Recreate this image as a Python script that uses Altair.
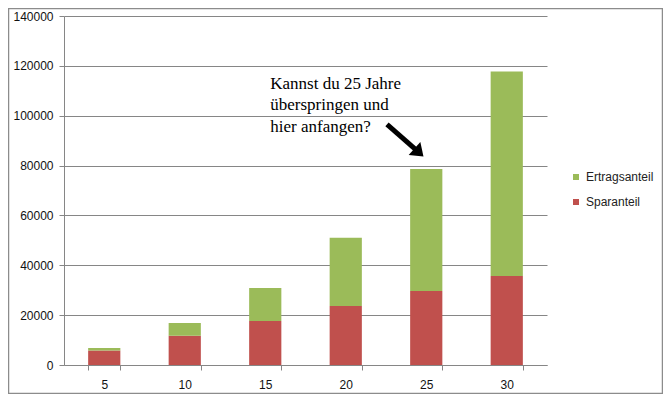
import altair as alt
import pandas as pd

jahre = ["5", "10", "15", "20", "25", "30"]
sparanteil = [5800, 11700, 17700, 23700, 29700, 35700]
ertragsanteil = [1000, 5100, 13200, 27300, 48900, 82000]
serien = ["Ertragsanteil", "Sparanteil"]
farben = ["#9BBB59", "#C0504D"]
y_ticks = [0, 20000, 40000, 60000, 80000, 100000, 120000, 140000]

anmerkung = ["Kannst du 25 Jahre", "überspringen und", "hier anfangen?"]

rows = []
for j, s, e in zip(jahre, sparanteil, ertragsanteil):
    rows.append({"jahr": j, "anteil": "Sparanteil", "wert": s, "ord": 0})
    rows.append({"jahr": j, "anteil": "Ertragsanteil", "wert": e, "ord": 1})
df = pd.DataFrame(rows)

x_scale = alt.Scale(domain=jahre, paddingInner=0.6, paddingOuter=0.3)
y_scale = alt.Scale(domain=[0, 140000], nice=False)

bars = alt.Chart(df).mark_bar().encode(
    x=alt.X("jahr:N", sort=jahre, scale=x_scale, title=None,
            axis=alt.Axis(labelAngle=0, tickBand="extent", tickSize=5,
                          labelPadding=9, grid=False)),
    y=alt.Y("wert:Q", stack="zero", scale=y_scale, title=None,
            axis=alt.Axis(values=y_ticks, format="d", grid=True, tickSize=5,
                          labelPadding=6)),
    color=alt.Color("anteil:N", scale=alt.Scale(domain=serien, range=farben),
                    legend=alt.Legend(title=None, orient="none", legendX=506,
                                      legendY=155, symbolType="square",
                                      symbolSize=36, symbolStrokeWidth=0,
                                      labelFont="Liberation Sans",
                                      labelFontSize=12, labelColor="#222222",
                                      rowPadding=13, padding=0, labelOffset=4)),
    order=alt.Order("ord:Q"),
)

text_df = pd.DataFrame([{"jahr": "15", "y": 116000, "t": anmerkung}])
text = alt.Chart(text_df).mark_text(
    align="left", baseline="top", dx=5, font="Liberation Serif",
    fontSize=17, lineHeight=21.5, color="black"
).encode(
    x=alt.X("jahr:N", scale=x_scale, sort=jahre, title=None),
    y=alt.Y("y:Q", scale=y_scale, title=None),
    text="t",
)

arrow_df = pd.DataFrame([{"jahr": "25", "jahr2": "25", "y": 96480, "y2": 85800}])
shaft = alt.Chart(arrow_df).mark_rule(
    color="black", strokeWidth=5, xOffset=-39.25, x2Offset=-8.75
).encode(
    x=alt.X("jahr:N", scale=x_scale, sort=jahre, title=None),
    x2="jahr2:N",
    y=alt.Y("y:Q", scale=y_scale, title=None),
    y2="y2:Q",
)

head = alt.Chart(arrow_df).mark_point(
    shape="M0,-1L1.1,0.5L-1.1,0.5Z", filled=True, color="black", opacity=1,
    size=256, angle=131.6, xOffset=-8.75, strokeWidth=0
).encode(
    x=alt.X("jahr2:N", scale=x_scale, sort=jahre, title=None),
    y=alt.Y("y2:Q", scale=y_scale, title=None),
)

frame = alt.Chart(pd.DataFrame([{"f": 1}])).mark_rect(
    filled=False, stroke="#8c8c8c", strokeWidth=1.5, clip=False
).encode(
    x=alt.value(-55.5), x2=alt.value(598.5),
    y=alt.value(-7.5), y2=alt.value(377.5),
)

chart = alt.layer(frame, bars, shaft, head, text).properties(
    width=483, height=349,
    autosize=alt.AutoSizeParams(type="none"),
    padding={"left": 56, "top": 8, "right": 116, "bottom": 29},
    background="white",
).configure_view(stroke=None).configure_axis(
    gridColor="#868686", domainColor="#868686", tickColor="#868686",
    labelFont="Liberation Sans", labelFontSize=12, labelColor="#111111",
    domainWidth=1, gridWidth=1,
)

chart.save("out.html", embed_options={"renderer": "svg", "actions": False})
